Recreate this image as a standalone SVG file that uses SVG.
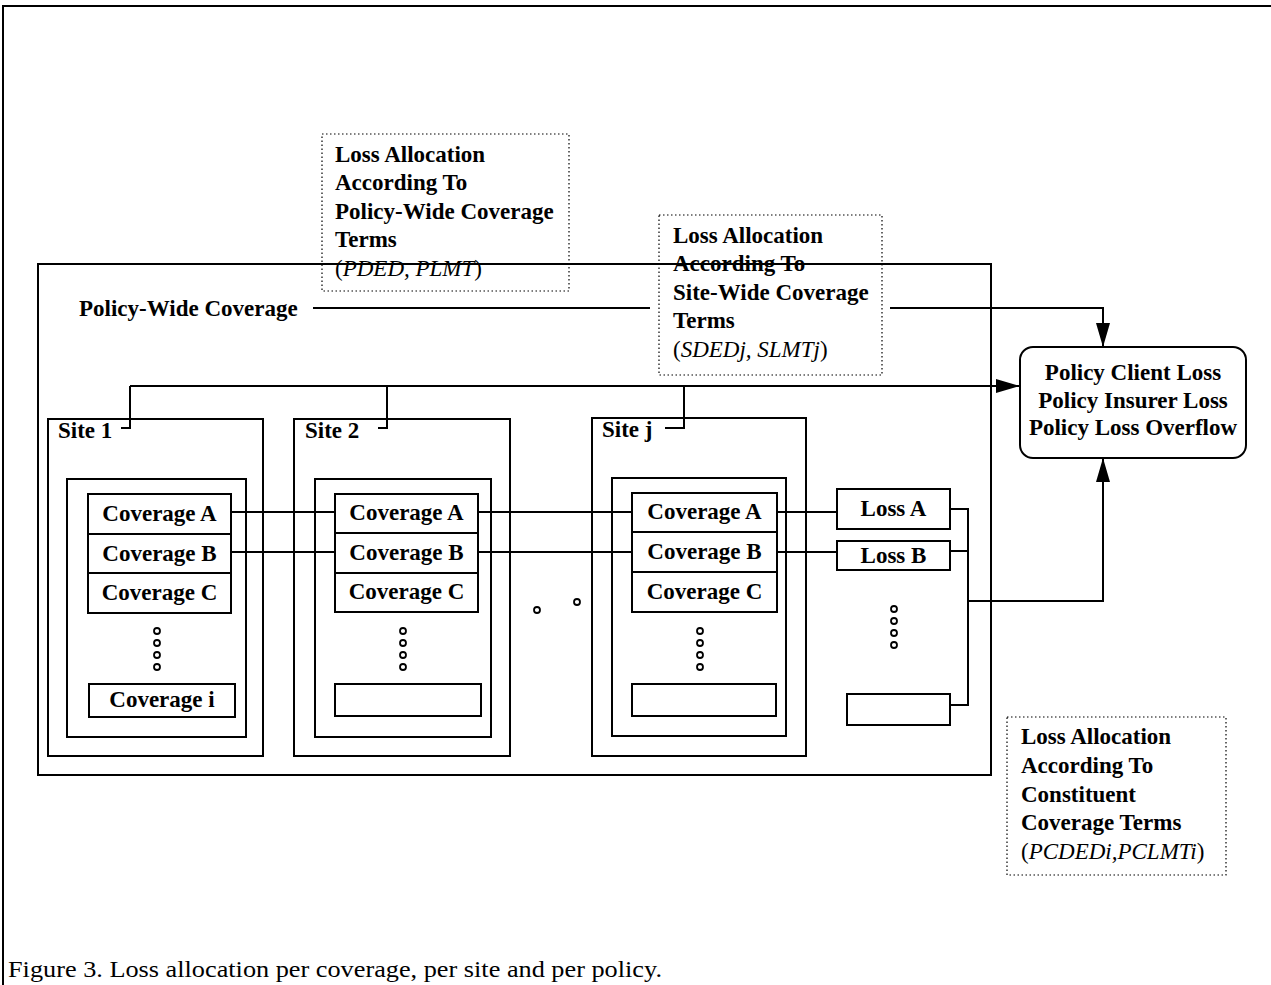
<svg xmlns="http://www.w3.org/2000/svg" width="1271" height="985" viewBox="0 0 1271 985">
<style>
text{font-family:"Liberation Serif","Times New Roman",serif;font-size:23px;font-weight:bold;fill:#000}
.reg{font-weight:normal}
.it{font-style:italic;font-weight:normal}
.box{fill:#fff;stroke:#000;stroke-width:2}
.frame{fill:none;stroke:#000;stroke-width:2}
.dot{fill:none;stroke:#000;stroke-width:1.2;stroke-dasharray:1.5 2.5}
.ln{fill:none;stroke:#000;stroke-width:2}
.c{text-anchor:middle}
.o{fill:#fff;stroke:#000;stroke-width:1.8}
</style>
<defs>
<marker id="ah" viewBox="0 0 24 14" refX="24" refY="7" markerWidth="24" markerHeight="14" markerUnits="userSpaceOnUse" orient="auto">
<path d="M0,0 L24,7 L0,14 z" fill="#000"/>
</marker>
</defs>
<g id="page-frame">
<path class="ln" d="M3,985 V6 H1271" stroke-width="2.5"/>
</g>
<g id="policy-wide-box">
<rect class="frame" x="38" y="264" width="953" height="511"/>
<text x="79" y="316">Policy-Wide Coverage</text>
</g>
<g id="note-policy">
<rect class="dot" x="322" y="134" width="247" height="157"/>
<text x="335" y="162">Loss Allocation</text>
<text x="335" y="190">According To</text>
<text x="335" y="219">Policy-Wide Coverage</text>
<text x="335" y="247">Terms</text>
<text x="335" y="276" class="reg">(<tspan class="it">PDED, PLMT</tspan>)</text>
</g>
<g id="note-site">
<rect class="dot" x="659" y="215" width="223" height="160"/>
<text x="673" y="243">Loss Allocation</text>
<text x="673" y="271">According To</text>
<text x="673" y="300">Site-Wide Coverage</text>
<text x="673" y="328">Terms</text>
<text x="673" y="357" class="reg">(<tspan class="it">SDEDj, SLMTj</tspan>)</text>
</g>
<g id="site-1">
<rect class="box" x="48" y="419" width="215" height="337"/>
<text x="58" y="438">Site 1</text>
<rect class="box" x="67" y="479" width="179" height="258"/>
<rect class="box" x="88" y="494" width="143" height="40"/>
<text class="c" x="159.5" y="521">Coverage A</text>
<rect class="box" x="88" y="534" width="143" height="39"/>
<text class="c" x="159.5" y="561">Coverage B</text>
<rect class="box" x="88" y="573" width="143" height="40"/>
<text class="c" x="159.5" y="600">Coverage C</text>
<circle class="o" cx="157" cy="631" r="3"/><circle class="o" cx="157" cy="643" r="3"/><circle class="o" cx="157" cy="655" r="3"/><circle class="o" cx="157" cy="667" r="3"/>
<rect class="box" x="89" y="684" width="146" height="33"/>
<text class="c" x="162" y="707">Coverage i</text>
</g>
<g id="site-2">
<rect class="box" x="294" y="419" width="216" height="337"/>
<text x="305" y="438">Site 2</text>
<rect class="box" x="315" y="479" width="176" height="258"/>
<rect class="box" x="335" y="494" width="143" height="39"/>
<text class="c" x="406.5" y="520">Coverage A</text>
<rect class="box" x="335" y="533" width="143" height="40"/>
<text class="c" x="406.5" y="560">Coverage B</text>
<rect class="box" x="335" y="573" width="143" height="39"/>
<text class="c" x="406.5" y="599">Coverage C</text>
<circle class="o" cx="403" cy="631" r="3"/><circle class="o" cx="403" cy="643" r="3"/><circle class="o" cx="403" cy="655" r="3"/><circle class="o" cx="403" cy="667" r="3"/>
<rect class="box" x="335" y="684" width="146" height="32"/>
</g>
<g id="ellipsis-sites">
<circle class="o" cx="537" cy="610" r="3"/>
<circle class="o" cx="577" cy="602" r="3"/>
</g>
<g id="site-j">
<rect class="box" x="592" y="418" width="214" height="338"/>
<text x="602" y="437">Site j</text>
<rect class="box" x="612" y="478" width="174" height="258"/>
<rect class="box" x="632" y="493" width="145" height="39"/>
<text class="c" x="704.5" y="519">Coverage A</text>
<rect class="box" x="632" y="532" width="145" height="40"/>
<text class="c" x="704.5" y="559">Coverage B</text>
<rect class="box" x="632" y="572" width="145" height="40"/>
<text class="c" x="704.5" y="599">Coverage C</text>
<circle class="o" cx="700" cy="631" r="3"/><circle class="o" cx="700" cy="643" r="3"/><circle class="o" cx="700" cy="655" r="3"/><circle class="o" cx="700" cy="667" r="3"/>
<rect class="box" x="632" y="684" width="144" height="32"/>
</g>
<g id="losses">
<rect class="box" x="837" y="489" width="113" height="40"/>
<text class="c" x="893.5" y="516">Loss A</text>
<rect class="box" x="837" y="541" width="113" height="29"/>
<text class="c" x="893.5" y="563">Loss B</text>
<circle class="o" cx="894" cy="609" r="3"/><circle class="o" cx="894" cy="621" r="3"/><circle class="o" cx="894" cy="633" r="3"/><circle class="o" cx="894" cy="645" r="3"/>
<rect class="box" x="847" y="694" width="103" height="31"/>
</g>
<g id="policy-result">
<rect class="box" x="1020" y="347" width="226" height="111" rx="13"/>
<text class="c" x="1133" y="380">Policy Client Loss</text>
<text class="c" x="1133" y="408">Policy Insurer Loss</text>
<text class="c" x="1133" y="435">Policy Loss Overflow</text>
</g>
<g id="note-constituent">
<rect class="dot" x="1007" y="717" width="219" height="158"/>
<text x="1021" y="744">Loss Allocation</text>
<text x="1021" y="773">According To</text>
<text x="1021" y="802">Constituent</text>
<text x="1021" y="830">Coverage Terms</text>
<text x="1021" y="859" class="reg">(<tspan class="it">PCDEDi,PCLMTi</tspan>)</text>
</g>
<g id="connectors">
<path class="ln" d="M313,308 H650"/>
<path class="ln" d="M890,308 H1103 V347" marker-end="url(#ah)"/>
<path class="ln" d="M130,386 H1020" marker-end="url(#ah)"/>
<path class="ln" d="M130,386 V428 H121"/>
<path class="ln" d="M387,386 V428 H378"/>
<path class="ln" d="M684,386 V428 H665"/>
<path class="ln" d="M231,512 H335 M478,512 H632 M777,512 H837"/>
<path class="ln" d="M231,552 H335 M478,552 H632 M777,552 H837"/>
<path class="ln" d="M950,509 H968 V705 H950 M950,551 H968"/>
<path class="ln" d="M968,601 H1103 V458" marker-end="url(#ah)"/>
</g>
<g id="caption">
<text x="8" y="977" class="reg" textLength="654" lengthAdjust="spacingAndGlyphs">Figure 3. Loss allocation per coverage, per site and per policy.</text>
</g>
</svg>
